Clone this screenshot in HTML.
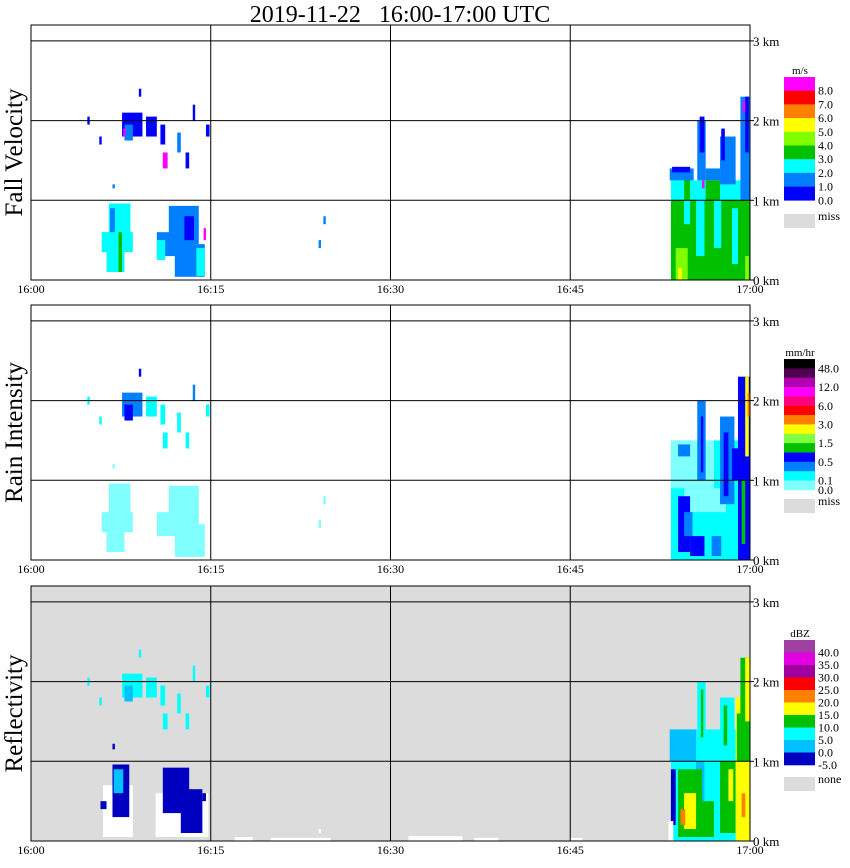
<!DOCTYPE html>
<html><head><meta charset="utf-8">
<style>
body{margin:0;background:#fff;width:850px;height:868px;overflow:hidden}
svg{position:absolute;left:0;top:0}
text{font-family:"Liberation Serif",serif;fill:#000}
</style></head>
<body>
<svg id="chart" width="850" height="868"></svg>
<script>
// ---- data ----
const timeTicks = ["16:00","16:15","16:30","16:45","17:00"];
const tickMinutes = [0,15,30,45,60];
const heightTicks = ["0 km","1 km","2 km","3 km"];
const panelTitles = ["Fall Velocity","Rain Intensity","Reflectivity"];
const fvLegendLabels = ["8.0","7.0","6.0","5.0","4.0","3.0","2.0","1.0","0.0"];
const riLegendLabels = ["48.0","","12.0","","6.0","","3.0","","1.5","","0.5","","0.1"];
const dbzLegendLabels = ["40.0","35.0","30.0","25.0","20.0","15.0","10.0","5.0","0.0","-5.0"];
// patches: [t0 min, t1 min, h0 km, h1 km, value]
const fvPatches = [
 [53.4,60,0,1.0,3.5],[55.5,56.2,0.3,1.0,2.5],[57.0,57.6,0.4,1.0,2.5],[58.5,59,0.2,0.9,2.5],[54.5,55,0.7,1.0,2.5],
 [53.8,54.8,0,0.4,4.5],[54.0,54.3,0,0.15,5.5],[59.6,59.9,0,0.3,4.5],
 [53.4,60,1.0,1.25,2.5],[54.5,55,1.0,1.3,3.5],[56.3,57.5,1.0,1.25,3.5],
 [53.3,55.3,1.25,1.4,1.5],[53.5,55,1.35,1.42,0.5],
 [55.6,56.3,1.25,2.0,1.5],[55.8,56.2,1.6,2.05,0.5],[56.3,57.5,1.25,1.4,1.5],
 [57.5,58.8,1.2,1.8,1.5],[57.6,57.9,1.5,1.9,0.5],
 [59.2,60,1.0,2.3,1.5],[59.6,59.9,1.6,2.3,0.5],[59.4,59.6,2.1,2.25,8.5],[56.0,56.2,1.15,1.25,8.5],
 [6.5,8.3,0.55,0.96,2.5],[5.9,8.5,0.35,0.6,2.5],[6.3,7.8,0.1,0.35,2.5],[6.6,7.0,0.6,0.9,1.5],[7.3,7.6,0.1,0.6,3.5],
 [11.5,14.0,0.45,0.93,1.5],[10.5,13.5,0.3,0.6,1.5],[12.0,14.5,0.04,0.45,1.5],[10.5,11.2,0.25,0.5,2.5],
 [13.8,14.5,0.05,0.4,2.5],[12.8,13.6,0.5,0.8,0.5],[14.4,14.6,0.5,0.65,8.5],
 [7.6,9.3,1.8,2.1,0.5],[7.8,8.5,1.75,1.95,1.5],[7.7,7.9,1.8,1.9,8.5],[9.6,10.5,1.8,2.05,0.5],[10.8,11.2,1.7,1.95,0.5],
 [11.0,11.4,1.4,1.6,8.5],[12.2,12.5,1.6,1.85,1.5],[12.9,13.2,1.4,1.6,0.5],[13.5,13.7,2.0,2.2,0.5],
 [14.6,14.9,1.8,1.95,0.5],[4.7,4.9,1.95,2.05,0.5],[5.7,5.9,1.7,1.8,0.5],[9.0,9.2,2.3,2.4,0.5],[6.8,7.0,1.15,1.2,1.5],
 [24.0,24.2,0.4,0.5,1.5],[24.4,24.6,0.7,0.8,1.5]
];
const riPatches = [
 [53.4,60,0,1.5,0.2],[53.4,57,0.9,1.5,0.05],[54.5,58,0.6,0.9,0.05],
 [54.0,55.0,0.1,0.8,0.7],[55.0,56.2,0.05,0.3,0.7],[54.5,55.2,0.3,0.6,0.3],[56.8,57.6,0.05,0.3,0.3],
 [55.6,56.3,1.0,2.0,0.3],[55.9,56.1,1.1,1.8,0.7],[57.5,58.7,0.7,1.8,0.3],[57.8,58.2,0.8,1.6,0.7],
 [59.0,60,0,2.3,0.7],[59.3,59.6,0.2,1.0,1.2],[59.6,59.9,1.3,2.3,2.5],[59.8,60,1.8,2.1,3.5],[58.5,59.2,1.0,1.4,0.7],
 [54.0,55.0,1.3,1.45,0.3],
 [6.5,8.3,0.55,0.96,0.05],[5.9,8.5,0.35,0.6,0.05],[6.3,7.8,0.1,0.35,0.05],
 [11.5,14.0,0.45,0.93,0.05],[10.5,13.5,0.3,0.6,0.05],[12.0,14.5,0.04,0.45,0.05],
 [7.6,9.3,1.8,2.1,0.3],[7.8,8.5,1.75,1.95,0.7],[9.6,10.5,1.8,2.05,0.2],[10.8,11.2,1.7,1.95,0.2],
 [11.0,11.4,1.4,1.6,0.2],[12.2,12.5,1.6,1.85,0.2],[12.9,13.2,1.4,1.6,0.2],[13.5,13.7,2.0,2.2,0.3],
 [14.6,14.9,1.8,1.95,0.2],[4.7,4.9,1.95,2.05,0.2],[5.7,5.9,1.7,1.8,0.2],[9.0,9.2,2.3,2.4,0.7],[6.8,7.0,1.15,1.2,0.05],
 [24.0,24.2,0.4,0.5,0.05],[24.4,24.6,0.7,0.8,0.05]
];
const dbzPatches = [
 [53.4,60,0,1.4,7],[53.3,55.5,1.0,1.4,3],[55.5,56.2,0.4,1.0,3],
 [54.0,56.0,0.05,0.9,12],[54.5,55.5,0.15,0.6,17],[54.2,54.6,0.2,0.4,22],[56.0,57.0,0.05,0.5,12],
 [57.5,58.8,0.1,1.0,12],[58.2,58.6,0.5,0.9,17],[58.8,60,0,1.8,17],[59.3,59.6,0.3,0.6,22],[58.9,59.2,1.0,1.6,12],
 [55.6,56.3,1.0,2.0,7],[55.9,56.1,1.3,1.9,12],[57.5,58.7,1.0,1.8,7],[57.8,58.1,1.2,1.7,12],
 [59.2,60,1.0,2.3,12],[59.6,60,1.5,2.3,17],[53.4,53.8,0.2,0.9,-2],[53.2,53.6,0,0.25,-8],
 [6.0,8.5,0.05,0.7,-8],[6.8,8.2,0.3,0.96,-2],[6.9,7.7,0.6,0.9,2],[5.8,6.3,0.4,0.5,-2],
 [10.4,14.8,0.05,0.6,-8],[11.0,13.2,0.35,0.92,-2],[12.5,14.3,0.1,0.65,-2],[14.3,14.6,0.5,0.6,-2],
 [7.6,9.3,1.8,2.1,7],[7.8,8.5,1.75,1.95,3],[9.6,10.5,1.8,2.05,7],[10.8,11.2,1.7,1.95,7],
 [11.0,11.4,1.4,1.6,7],[12.2,12.5,1.6,1.85,7],[12.9,13.2,1.4,1.6,7],[13.5,13.7,2.0,2.2,7],
 [14.6,14.9,1.8,1.95,7],[4.7,4.9,1.95,2.05,7],[5.7,5.9,1.7,1.8,7],[9.0,9.2,2.3,2.4,7],[6.8,7.0,1.15,1.22,-2],
 [17.0,18.5,0,0.05,-8],[20,25,0,0.04,-8],[24.0,24.2,0.1,0.15,-8],[31.5,36.0,0,0.06,-8],[37,39,0,0.04,-8],[45,46,0,0.04,-8]
];
// ---- colors ----
const fvColors=["#0000ff","#0080ff","#00ffff","#00c000","#80ff00","#ffff00","#ff8000","#ff0000","#ff00ff"];
const riThresh=[0,0.1,0.25,0.5,1,1.5,2,3,4,6,8,12,24,48];
const riColors=["#80ffff","#00ffff","#0080ff","#0000ff","#00c000","#80ff40","#ffff00","#ff8000","#ff0000","#ff0080","#ff00ff","#b000b0","#500050","#000000"];
const dbzColors=["#0000c0","#00c0ff","#00ffff","#00c000","#ffff00","#ff8000","#ff0000","#a000a0","#e000e0","#a040a0"];
function fvColor(v){return fvColors[Math.max(0,Math.min(8,Math.floor(v)))];}
function riColor(v){let i=0;for(let k=0;k<riThresh.length;k++)if(v>=riThresh[k])i=k;return riColors[i];}
function dbzColor(v){if(v<-5)return "#ffffff";return dbzColors[Math.min(9,Math.floor((v+5)/5))];}

const NS="http://www.w3.org/2000/svg";
const svg=document.getElementById('chart');
function mk(tag,attrs,parent){const e=document.createElementNS(NS,tag);for(const k in attrs)e.setAttribute(k,attrs[k]);(parent||svg).appendChild(e);return e;}
const X0=31,X1=750;
function xs(t){return X0+(X1-X0)*t/60;}
const panels=[{top:25,bottom:280,bg:"#ffffff",data:fvPatches,col:fvColor},
              {top:305,bottom:560,bg:"#ffffff",data:riPatches,col:riColor},
              {top:586,bottom:841,bg:"#dcdcdc",data:dbzPatches,col:dbzColor}];

let tt=mk('text',{x:400,y:22,'text-anchor':'middle','font-size':'24',style:'white-space:pre'});


tt.textContent="2019-11-22   16:00-17:00 UTC";

panels.forEach((p,pi)=>{
  const ys=h=>p.bottom-h*79.7;
  const g=mk('g',{});
  
  
  mk('rect',{x:X0,y:p.top,width:X1-X0,height:p.bottom-p.top,fill:p.bg},g);
  p.data.forEach(d=>{
    const r=mk('rect',{x:xs(d[0]),y:ys(d[3]),width:Math.max(2,xs(d[1])-xs(d[0])),height:Math.max(2,ys(d[2])-ys(d[3])),fill:p.col(d[4])},g);
    
    
  });
  for(let h=1;h<=3;h++) mk('line',{x1:X0,x2:X1,y1:ys(h),y2:ys(h),stroke:'#000','stroke-width':1},g);
  tickMinutes.slice(1,4).forEach(m=>mk('line',{x1:xs(m),x2:xs(m),y1:p.top,y2:p.bottom,stroke:'#000','stroke-width':1},g));
  mk('rect',{x:X0,y:p.top,width:X1-X0,height:p.bottom-p.top,fill:'none',stroke:'#000','stroke-width':1},g);
  heightTicks.forEach((lab,i)=>{
    mk('line',{x1:X1,x2:X1+4,y1:ys(i),y2:ys(i),stroke:'#000'},g);
    const t=mk('text',{x:753,y:ys(i)+5,'font-size':'13'},g);
    
    
    t.textContent=lab;
  });
  timeTicks.forEach((lab,i)=>{
    const t=mk('text',{x:xs(tickMinutes[i]),y:p.bottom+13,'text-anchor':'middle','font-size':'12'},g);
    
    
    t.textContent=lab;
  });
  const cy=(p.top+p.bottom)/2;
  const pt=mk('text',{x:22,y:cy,'text-anchor':'middle','font-size':'25',transform:`rotate(-90 22 ${cy})`},g);
  
  
  pt.textContent=panelTitles[pi];
});

function legend(x,top,h,colors,labels,unit,missY,missLabel){
  const g=mk('g',{});
  
  
  const u=mk('text',{x:x+16,y:top-3,'text-anchor':'middle','font-size':'11'},g);u.textContent=unit;
  colors.forEach((c,i)=>{
    mk('rect',{x:x,y:top+i*h,width:31,height:h+0.3,fill:c},g);
  });
  labels.forEach((l,i)=>{
    if(!l)return;
    const t=mk('text',{x:x+34,y:top+(i+1)*h+4,'font-size':'12'},g);t.textContent=l;
  });
  mk('rect',{x:x,y:missY,width:31,height:14,fill:'#dcdcdc'},g);
  const m=mk('text',{x:x+34,y:missY+6,'font-size':'12'},g);m.textContent=missLabel;
}
legend(784,77,13.7,fvColors.slice().reverse(),fvLegendLabels,"m/s",214,"miss");
legend(784,359,9.35,riColors.slice().reverse(),riLegendLabels,"mm/hr",499,"miss");
(function(){const t=mk('text',{x:818,y:494,'font-size':'12'});t.textContent="0.0";})();
legend(784,640,12.5,dbzColors.slice().reverse(),dbzLegendLabels,"dBZ",777,"none");
</script>
</body></html>
